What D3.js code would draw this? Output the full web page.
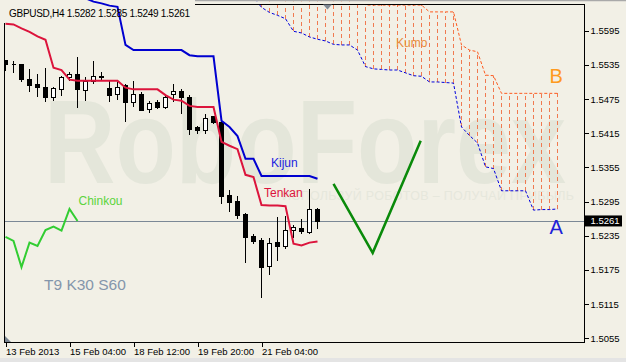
<!DOCTYPE html>
<html>
<head>
<meta charset="utf-8">
<script src="https://cdnjs.cloudflare.com/ajax/libs/d3/7.8.5/d3.min.js"></script>
<style>
body { margin:0; background:#f2f0e6; }
svg { display:block; font-family:"Liberation Sans", Arial, sans-serif; }
</style>
</head>
<body>
<div class="grafico"></div>
<script>
var w = 626, h = 362;

// velas GBPUSD H4 (40 barras)
var opens  = [1.5543,1.5537,1.5537,1.5511,1.5501,1.5496,1.5479,1.5493,1.5514,1.5519,
              1.5491,1.5506,1.5514,1.5494,1.5484,1.5500,1.5469,1.5484,1.5457,1.5469,
              1.5461,1.5484,1.5490,1.5478,1.5426,1.5420,1.5445,1.5435,1.5307,1.5296,
              1.5274,1.5234,1.5227,1.5182,1.5224,1.5217,1.5245,1.5249,1.5242,1.5282];
var highs  = [1.5546,1.5543,1.5539,1.5530,1.5521,1.5532,1.5498,1.5518,1.5525,1.5550,
              1.5516,1.5543,1.5525,1.5509,1.5506,1.5503,1.5508,1.5490,1.5474,1.5475,
              1.5485,1.5503,1.5494,1.5484,1.5430,1.5450,1.5447,1.5438,1.5317,1.5307,
              1.5277,1.5239,1.5232,1.5233,1.5270,1.5271,1.5256,1.5266,1.5318,1.5285];
var lows   = [1.5526,1.5522,1.5506,1.5490,1.5481,1.5472,1.5474,1.5482,1.5509,1.5461,
              1.5474,1.5503,1.5508,1.5471,1.5475,1.5436,1.5463,1.5455,1.5453,1.5459,
              1.5460,1.5471,1.5451,1.5414,1.5415,1.5415,1.5433,1.5292,1.5279,1.5267,
              1.5189,1.5223,1.5128,1.5168,1.5193,1.5213,1.5233,1.5240,1.5240,1.5249];
var closes = [1.5536,1.5536,1.5511,1.5500,1.5496,1.5478,1.5495,1.5514,1.5519,1.5493,
              1.5506,1.5516,1.5516,1.5482,1.5496,1.5469,1.5484,1.5456,1.5468,1.5461,
              1.5479,1.5489,1.5478,1.5423,1.5421,1.5441,1.5435,1.5304,1.5295,1.5271,
              1.5233,1.5226,1.5180,1.5223,1.5217,1.5245,1.5251,1.5244,1.5282,1.5261];

// Ichimoku T9 K30 S60
var tenkan = [1.5607,1.5606,1.5599,1.5593,1.5585,1.5579,1.5530,1.5526,1.5509,1.5507,
              1.5507,1.5507,1.5507,1.5507,1.5507,1.5495,1.5492,1.5492,1.5492,1.5492,
              1.5482,1.5474,1.5472,1.5463,1.5461,1.5461,1.5461,1.5400,1.5393,1.5387,
              1.5342,1.5338,1.5289,1.5288,1.5288,1.5287,1.5221,1.5218,1.5223,1.5225];
var kijun  = [null,null,null,null,null,null,null,null,null,null,
              1.5652,1.5646,1.5643,1.5639,1.5637,1.5570,1.5561,1.5561,1.5561,1.5561,
              1.5561,1.5561,1.5561,1.5552,1.5550,1.5550,1.5550,1.5437,1.5426,1.5410,
              1.5370,1.5370,1.5340,1.5340,1.5340,1.5340,1.5340,1.5340,1.5340,1.5335];
var chinkou = [1.5233,1.5226,1.5180,1.5223,1.5217,1.5245,1.5251,1.5244,1.5282,1.5261];

// nube desplazada 30 barras, empieza en la barra 31
var kumoStart = 31;
var spanA = [1.5654,1.5636,1.5627,1.5622,1.5616,1.5594,1.5591,1.5584,1.5580,1.5577,
             1.5571,1.5570,1.5570,1.5561,1.5532,1.5528,1.5527,1.5526,1.5526,1.5521,
             1.5516,1.5515,1.5505,1.5505,1.5504,1.5503,1.5426,1.5411,1.5398,1.5356,
             1.5353,1.5314,1.5314,1.5314,1.5314,1.5280,1.5281,1.5281,1.5282];
var spanB = [1.5660,1.5660,1.5660,1.5660,1.5660,1.5660,1.5660,1.5660,1.5660,1.5660,
             1.5660,1.5660,1.5660,1.5660,1.5640,1.5640,1.5640,1.5640,1.5640,1.5640,
             1.5640,1.5640,1.5628,1.5628,1.5628,1.5628,1.5570,1.5561,1.5558,1.5517,
             1.5516,1.5485,1.5485,1.5485,1.5485,1.5485,1.5485,1.5485,1.5485];

// la V verde dibujada a mano
var vBars = [41, 45.9, 51.9];
var vPrices = [1.5326, 1.5205, 1.5402];

var yTicks = [1.5595,1.5535,1.5475,1.5415,1.5355,1.5295,1.5235,1.5175,1.5115,1.5055];
var xTicks = [0, 8, 16, 24, 32];
var xLabels = ["13 Feb 2013","15 Feb 04:00","18 Feb 12:00","19 Feb 20:00","21 Feb 04:00"];
var bid = 1.5261;

var bg = "#f2f0e6";
var svg = d3.select(".grafico").append("svg").attr("width", w).attr("height", h);
svg.append("rect").attr("width", w).attr("height", h).attr("fill", bg);

var x = d3.scaleLinear().domain([0, 72]).range([5.5, 581.5]);
var y = d3.scaleLinear().domain([1.5055, 1.5595]).range([338.3, 30.7]);
var px = function(v) { return Math.round(v) + 0.5; };

svg.append("clipPath").attr("id", "area")
  .append("rect").attr("x", 4.5).attr("y", 0).attr("width", 580).attr("height", 342.5);

// marca de agua
svg.append("text").attr("x", 44).attr("y", 183)
  .attr("font-size", 118).attr("font-weight", "bold")
  .attr("textLength", 522).attr("lengthAdjust", "spacingAndGlyphs")
  .attr("fill", "#e4e6da").text("RoboForex");
svg.append("text").attr("x", 282).attr("y", 200)
  .attr("font-size", 12.5).attr("textLength", 292)
  .attr("fill", "#e6e7dc").text("ИСПОЛЬЗУЙ РОБОТОВ – ПОЛУЧАЙ ПРИБЫЛЬ");

var g = svg.append("g").attr("clip-path", "url(#area)");

// Kumo rayado
var kIdx = d3.range(spanA.length);
g.selectAll(".rayado").data(kIdx).enter().append("line")
  .attr("x1", function(j) { return x(j + kumoStart); })
  .attr("x2", function(j) { return x(j + kumoStart); })
  .attr("y1", function(j) { return y(spanA[j]); })
  .attr("y2", function(j) { return y(spanB[j]); })
  .attr("stroke", "#f07a50").attr("stroke-dasharray", "4,3")
  .attr("shape-rendering", "crispEdges");

var lineaK = function(arr) {
  return d3.line()
    .x(function(d, j) { return x(j + kumoStart); })
    .y(function(d) { return y(d); })(arr);
};
g.append("path").attr("d", lineaK(spanB)).attr("fill", "none")
  .attr("stroke", "#ff5a1e").attr("stroke-dasharray", "3,2");
g.append("path").attr("d", lineaK(spanA)).attr("fill", "none")
  .attr("stroke", "#0000dd").attr("stroke-dasharray", "3,2");

// linea bid
g.append("line").attr("x1", 4.5).attr("x2", 584.5)
  .attr("y1", px(y(bid))).attr("y2", px(y(bid)))
  .attr("stroke", "#7b8896");

// velas
var bars = d3.range(opens.length);
var velas = g.selectAll(".vela").data(bars).enter().append("g")
  .attr("shape-rendering", "crispEdges");
velas.append("line")
  .attr("x1", function(i) { return x(i); })
  .attr("x2", function(i) { return x(i); })
  .attr("y1", function(i) { return px(y(highs[i])); })
  .attr("y2", function(i) { return px(y(lows[i])); })
  .attr("stroke", "#000");
velas.append("path")
  .attr("d", function(i) {
    var t = px(y(Math.max(opens[i], closes[i])));
    var b = px(y(Math.min(opens[i], closes[i])));
    var x0 = x(i) - 2, x1 = x(i) + 2;
    return "M" + x0 + "," + t + "H" + x1 + "V" + b + "H" + x0 + "Z";
  })
  .attr("fill", function(i) { return closes[i] >= opens[i] ? "#fff" : "#000"; })
  .attr("stroke", "#000");

var linea = d3.line()
  .defined(function(d) { return d != null; })
  .x(function(d, i) { return x(i); })
  .y(function(d) { return y(d); });

g.append("path").attr("d", linea(tenkan)).attr("fill", "none")
  .attr("stroke", "#dc143c").attr("stroke-width", 2);
g.append("path").attr("d", linea(kijun)).attr("fill", "none")
  .attr("stroke", "#0000d0").attr("stroke-width", 2);
g.append("path").attr("d", linea(chinkou)).attr("fill", "none")
  .attr("stroke", "#32cd32").attr("stroke-width", 2);

g.append("path")
  .attr("d", d3.line().x(function(d) { return x(d); }).y(function(d, i) { return y(vPrices[i]); })(vBars))
  .attr("fill", "none").attr("stroke", "#0a8a0a").attr("stroke-width", 2.5);

// borde superior
svg.append("rect").attr("x", 195).attr("y", 0).attr("width", w - 195).attr("height", 1.5).attr("fill", "#a9a9a9");
svg.append("rect").attr("x", 195).attr("y", 1.5).attr("width", w - 195).attr("height", 2.5).attr("fill", bg);

// marco
var marco = svg.append("g").attr("stroke", "#000").attr("shape-rendering", "crispEdges");
marco.append("line").attr("x1", 195).attr("x2", 584.5).attr("y1", 4.5).attr("y2", 4.5);
marco.append("line").attr("x1", 4.5).attr("x2", 4.5).attr("y1", 23).attr("y2", 342.5);
marco.append("line").attr("x1", 4.5).attr("x2", 584.5).attr("y1", 342.5).attr("y2", 342.5);
marco.append("line").attr("x1", 584.5).attr("x2", 584.5).attr("y1", 4.5).attr("y2", 342.5);

// ejes
var ejeY = svg.append("g").attr("transform", "translate(584.5,0)")
  .call(d3.axisRight(y).tickValues(yTicks).tickSize(4).tickPadding(2).tickFormat(d3.format(".4f")));
var ejeX = svg.append("g").attr("transform", "translate(0,342.5)")
  .call(d3.axisBottom(x).tickValues(xTicks).tickSize(4).tickPadding(2)
    .tickFormat(function(d, i) { return xLabels[i]; }));
[ejeY, ejeX].forEach(function(e) {
  e.select(".domain").remove();
  e.attr("font-family", "Liberation Sans, Arial, sans-serif").attr("font-size", 9.5);
  e.selectAll("line").attr("stroke", "#000").attr("shape-rendering", "crispEdges");
  e.selectAll("text").attr("fill", "#000");
});
ejeX.selectAll("text").attr("text-anchor", "start");

// precio actual
svg.append("rect").attr("x", 585).attr("y", y(bid) - 5.5).attr("width", 37).attr("height", 11).attr("fill", "#000");
svg.append("text").attr("x", 590.5).attr("y", y(bid)).attr("dy", "0.35em")
  .attr("font-size", 9.5).attr("fill", "#fff").text(d3.format(".4f")(bid));

// triangulos
svg.append("path").attr("d", "M323,4.5L332,4.5L327.5,9.5Z").attr("fill", "#808a95");
svg.append("path").attr("d", "M5,336L5,342L11,342Z").attr("fill", "#7a8591");

// franja inferior
svg.append("rect").attr("x", 0).attr("y", 358).attr("width", w).attr("height", 4).attr("fill", "#e4e4e4");

// textos
var last = opens.length - 1;
svg.append("text").attr("x", 9).attr("y", 16.5).attr("font-size", 10)
  .attr("textLength", 181).attr("fill", "#000")
  .text("GBPUSD,H4  " + [opens[last], highs[last], lows[last], closes[last]].map(d3.format(".4f")).join(" "));

var etiquetas = [
  {t: "Kijun", x: 271, y: 166.5, s: 12, c: "#2323e0"},
  {t: "Tenkan", x: 264, y: 196.5, s: 12, c: "#dc143c"},
  {t: "Chinkou", x: 78.5, y: 204.5, s: 12, c: "#5cd43c"},
  {t: "Kumo", x: 396, y: 47, s: 12, c: "#e88a3a"},
  {t: "B", x: 549.5, y: 83, s: 20, c: "#ff9a20"},
  {t: "A", x: 549.5, y: 234, s: 20, c: "#2020d8"},
  {t: "T9 K30 S60", x: 44, y: 290, s: 15.5, c: "#8496ab"}
];
svg.selectAll(".etq").data(etiquetas).enter().append("text")
  .attr("x", function(d) { return d.x; })
  .attr("y", function(d) { return d.y; })
  .attr("font-size", function(d) { return d.s; })
  .attr("fill", function(d) { return d.c; })
  .text(function(d) { return d.t; });
</script>
</body>
</html>
